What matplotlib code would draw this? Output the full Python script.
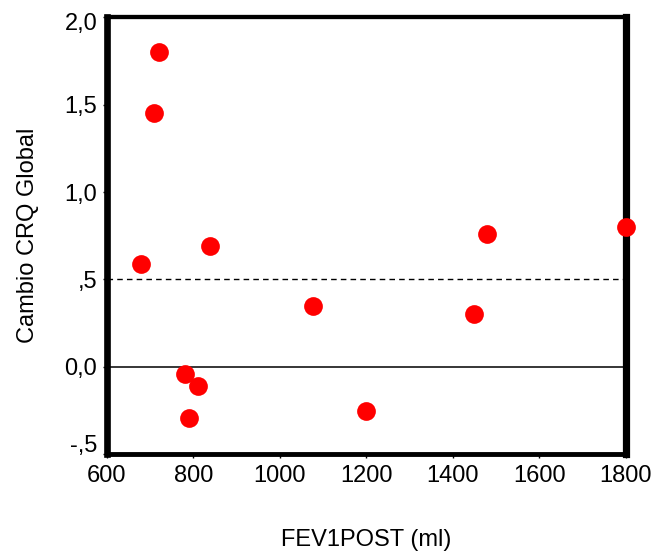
import matplotlib
matplotlib.use("Agg")
import matplotlib.pyplot as plt
import matplotlib.transforms as mtrans

# FEV1POST (ml) vs cambio CRQ global
fev1_post = [720, 709, 679, 838, 780, 810, 790, 1076, 1199, 1449, 1479, 1800]
cambio_crq = [1.80, 1.45, 0.59, 0.69, -0.04, -0.11, -0.29, 0.35, -0.25, 0.30, 0.76, 0.80]

x_ticks = [600, 800, 1000, 1200, 1400, 1600, 1800]
y_ticks = [-0.5, 0.0, 0.5, 1.0, 1.5, 2.0]
y_tick_labels = ["-,5", "0,0", ",5", "1,0", "1,5", "2,0"]

plt.rcParams['font.family'] = ['Liberation Sans', 'DejaVu Sans']

fig = plt.figure(figsize=(6.56, 5.56), dpi=100)
ax = fig.add_axes([0.163, 0.183, 0.791, 0.786])

# lineas de referencia
ax.axhline(0.0, color='black', linewidth=1.1, zorder=1)
ax.axhline(0.5, color='black', linewidth=1.0, linestyle=(0, (4, 3)), zorder=1)

ax.plot(fev1_post, cambio_crq, 'o', color='#ff0000', markersize=13.5,
        markeredgewidth=0, clip_on=False, zorder=3)

ax.set_xlim(600, 1800)
ax.set_ylim(-0.5, 2.0)
ax.set_xticks(x_ticks)
ax.set_yticks(y_ticks)
ax.set_yticklabels(y_tick_labels)

ax.spines['left'].set_linewidth(4.8)
ax.spines['right'].set_linewidth(5.2)
ax.spines['top'].set_linewidth(3.1)
ax.spines['bottom'].set_linewidth(3.5)

ax.tick_params(axis='both', labelsize=17, length=3, width=1, color='black')
ax.tick_params(axis='x', pad=5)
ax.tick_params(axis='y', pad=4)

# etiquetas extremas del eje y un poco hacia dentro
labels = ax.get_yticklabels()
labels[0].set_transform(labels[0].get_transform() +
                        mtrans.ScaledTranslation(0, 11 / 100, fig.dpi_scale_trans))
labels[-1].set_transform(labels[-1].get_transform() +
                         mtrans.ScaledTranslation(0, -4 / 100, fig.dpi_scale_trans))

ax.set_xlabel("FEV1POST (ml)", fontsize=17, labelpad=30)
ax.set_ylabel("Cambio CRQ Global", fontsize=17, labelpad=18)

fig.savefig("out.png", dpi=100)
